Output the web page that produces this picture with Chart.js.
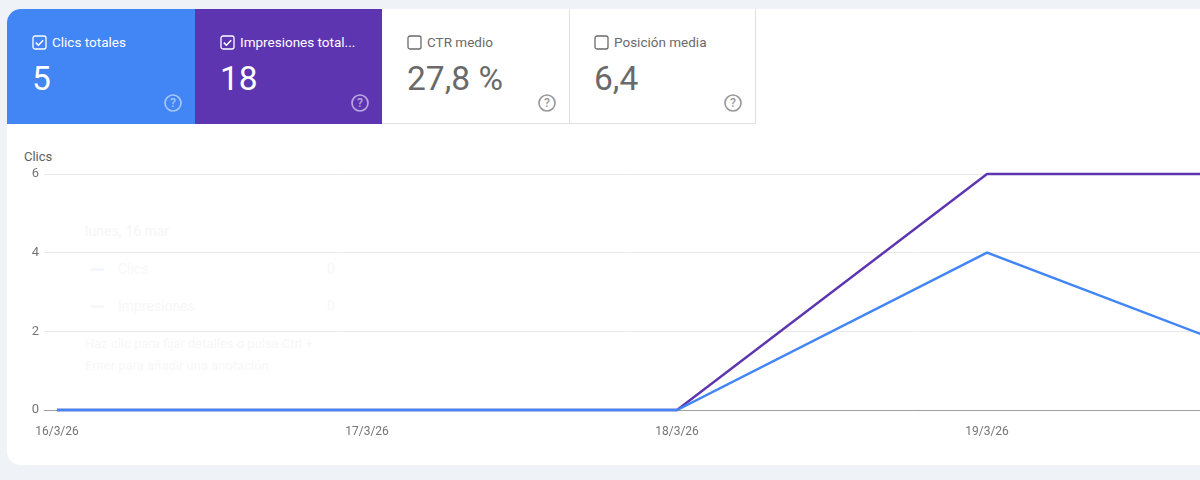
<!DOCTYPE html>
<html lang="es"><head><meta charset="utf-8">
<script src="https://cdn.jsdelivr.net/npm/chart.js@4/dist/chart.umd.min.js"></script>
<style>
html,body{margin:0;padding:0;width:1200px;height:480px;overflow:hidden;background:#eff3f8;font-family:Roboto,sans-serif}
#card{position:absolute;left:7px;top:9px;width:1300px;height:456px;background:#fff;border-radius:14px 0 0 14px}
.m{position:absolute;top:9px;height:115px;box-sizing:border-box}
.m .lb{position:absolute;left:45px;top:25px;font-size:13.5px;line-height:16px;white-space:nowrap}
.m .val{position:absolute;left:25px;top:50px;font-size:33.5px;line-height:40px;white-space:nowrap}
.m svg.c{position:absolute;left:25px;top:26px;width:15px;height:15px}
.m svg.h{position:absolute;right:12px;top:84px;width:20px;height:20px}
.on{color:#fff}.off{color:#6a6a6a;border-right:1px solid #e0e0e0;border-bottom:1px solid #e0e0e0}
#ghost{position:absolute;left:85px;top:223px;color:#f7f7f7;font-size:14px;line-height:16px}
#ghost div{position:absolute;white-space:nowrap}
#ghost .d{width:13px;height:3px;left:6px}
#yt{position:absolute;left:24px;top:150px;font-size:13px;line-height:14px;color:#616161}
canvas{position:absolute;left:0;top:0}
</style></head><body>
<div id="card"></div>
<div class="m on" style="left:7px;width:188px;background:#4285f4;border-top-left-radius:14px">
<svg class="c" viewBox="0 0 15 15"><rect x="1" y="1" width="13" height="13" rx="2" fill="none" stroke="#fff" stroke-width="1.3"/><path d="M3.8 7.6l2.6 2.6 4.8-5" fill="none" stroke="#fff" stroke-width="1.5"/></svg>
<div class="lb">Clics totales</div><div class="val">5</div>
<svg class="h" viewBox="0 0 18 18"><circle cx="9" cy="9" r="7.2" fill="none" stroke="#a6c6fa" stroke-width="1.5"/><text x="9" y="13" text-anchor="middle" font-size="11" font-family="Roboto" font-weight="500" fill="#a6c6fa">?</text></svg></div>
<div class="m on" style="left:195px;width:187px;background:#5e35b1">
<svg class="c" viewBox="0 0 15 15"><rect x="1" y="1" width="13" height="13" rx="2" fill="none" stroke="#fff" stroke-width="1.3"/><path d="M3.8 7.6l2.6 2.6 4.8-5" fill="none" stroke="#fff" stroke-width="1.5"/></svg>
<div class="lb">Impresiones total...</div><div class="val">18</div>
<svg class="h" viewBox="0 0 18 18"><circle cx="9" cy="9" r="7.2" fill="none" stroke="#bba6e0" stroke-width="1.5"/><text x="9" y="13" text-anchor="middle" font-size="11" font-family="Roboto" font-weight="500" fill="#bba6e0">?</text></svg></div>
<div class="m off" style="left:382px;width:188px">
<svg class="c" viewBox="0 0 15 15"><rect x="1" y="1" width="13" height="13" rx="2" fill="none" stroke="#6a6a6a" stroke-width="1.3"/></svg>
<div class="lb">CTR medio</div><div class="val">27,8 %</div>
<svg class="h" viewBox="0 0 18 18"><circle cx="9" cy="9" r="7.2" fill="none" stroke="#9a9a9a" stroke-width="1.5"/><text x="9" y="13" text-anchor="middle" font-size="11" font-family="Roboto" font-weight="500" fill="#9a9a9a">?</text></svg></div>
<div class="m off" style="left:569px;width:187px">
<svg class="c" viewBox="0 0 15 15"><rect x="1" y="1" width="13" height="13" rx="2" fill="none" stroke="#6a6a6a" stroke-width="1.3"/></svg>
<div class="lb">Posición media</div><div class="val">6,4</div>
<svg class="h" viewBox="0 0 18 18"><circle cx="9" cy="9" r="7.2" fill="none" stroke="#9a9a9a" stroke-width="1.5"/><text x="9" y="13" text-anchor="middle" font-size="11" font-family="Roboto" font-weight="500" fill="#9a9a9a">?</text></svg></div>
<div id="ghost">
<div style="left:0;top:0;font-weight:500">lunes, 16 mar</div>
<div class="d" style="top:45px;background:#f6f6fe"></div>
<div style="left:33px;top:38px">Clics</div><div style="left:242px;top:38px">0</div>
<div class="d" style="top:82px;background:#f7f7f7"></div>
<div style="left:33px;top:75px">Impresiones</div><div style="left:242px;top:75px">0</div>
<div style="left:0;top:113px;font-size:13px">Haz clic para fijar detalles o pulsa Ctrl +</div>
<div style="left:0;top:135px;font-size:13px">Enter para añadir una anotación</div>
</div>
<div id="yt">Clics</div>
<canvas id="c" width="1200" height="480"></canvas>
<script>
const categories = ['16/3/26','17/3/26','18/3/26','19/3/26','20/3/26'];
const clics = [0,0,0,4,1];
const impresiones = [0,0,0,6,6];
const yTicks = [0,2,4,6];
const visibleMax = 3.687;
const toPoints = a => a.map((v,i)=>({x:i,y:v}));
new Chart(document.getElementById('c'),{
  type:'line',
  data:{datasets:[
    {label:'Clics',data:toPoints(clics),borderColor:'#4285f4',borderWidth:2.4,pointRadius:0,tension:0,clip:false},
    {label:'Impresiones',data:toPoints(impresiones),borderColor:'#5e35b1',borderWidth:2.4,pointRadius:0,tension:0,clip:false}
  ]},
  options:{
    responsive:false,animation:false,
    layout:{padding:{top:174,left:0,right:0,bottom:0}},
    plugins:{legend:{display:false},tooltip:{enabled:false}},
    scales:{
      x:{type:'linear',min:0,max:visibleMax,
        afterFit(s){s.height=70;},
        afterBuildTicks(s){s.ticks=categories.map((_,i)=>({value:i})).filter(t=>t.value<=visibleMax);},
        grid:{display:false},border:{display:false},
        ticks:{padding:7,maxRotation:0,autoSkip:false,color:'#757575',font:{family:'Roboto',size:12},callback:v=>categories[v]}
      },
      y:{min:0,max:6,
        afterFit(s){s.width=57;},
        afterBuildTicks(s){s.ticks=yTicks.map(v=>({value:v}));},
        grid:{tickLength:13,lineWidth:1,color:c=>c.tick&&c.tick.value===0?'#9e9e9e':'#e8e8e8',tickColor:c=>c.tick&&c.tick.value===0?'#9e9e9e':'#e8e8e8'},
        border:{display:false},
        ticks:{padding:5,color:'#757575',font:{family:'Roboto',size:13}}
      }
    }
  }
});
</script>
</body></html>
